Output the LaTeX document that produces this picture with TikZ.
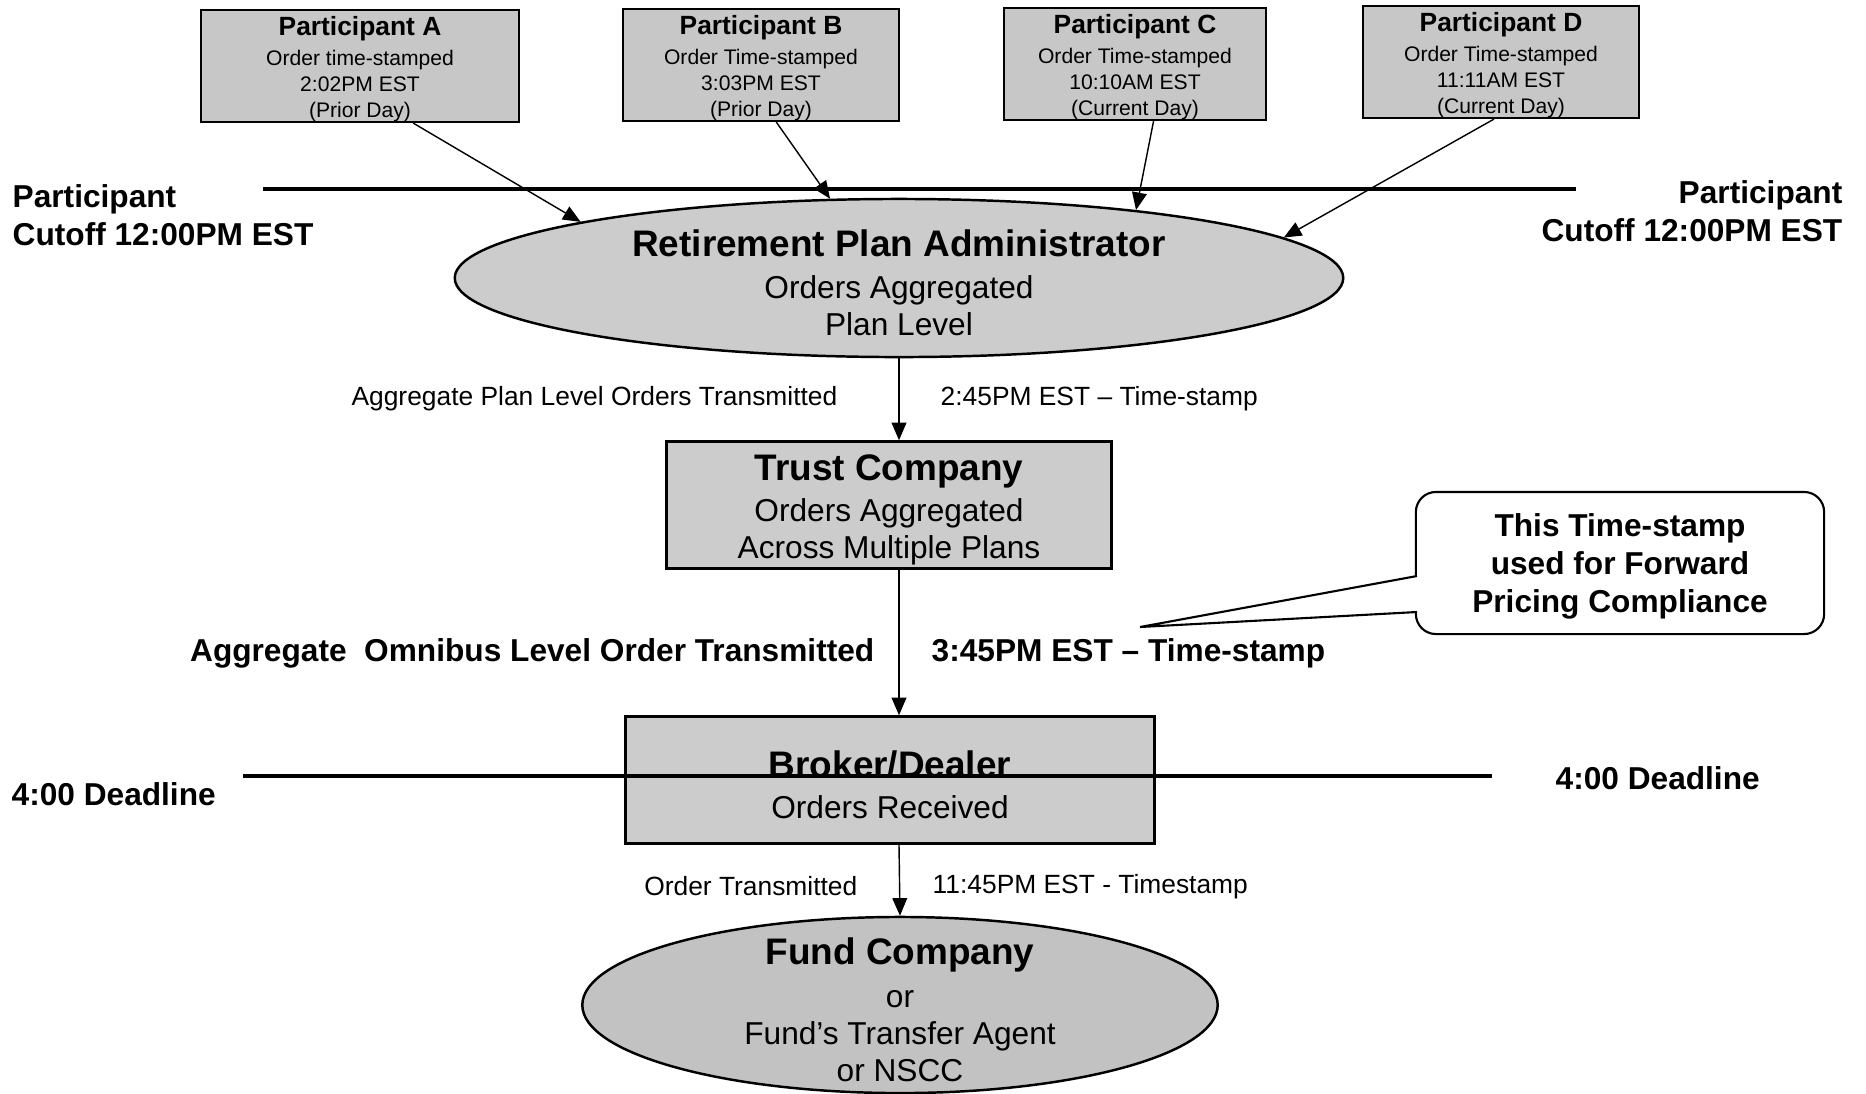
\documentclass[tikz,border=0pt]{standalone}
\usepackage{fontspec}
\setmainfont{Liberation Sans}
\usetikzlibrary{arrows.meta,shapes.geometric,positioning}

\newcommand{\ptitle}[1]{{\fontsize{7.5}{9}\selectfont\bfseries\rule{0pt}{7pt}#1}}
\newcommand{\btitle}[1]{{\fontsize{10.5}{12.6}\selectfont\bfseries\rule{0pt}{10.3pt}#1}}

\tikzset{
  pbox/.style={draw, line width=0.6pt, fill=black!22, align=center, inner sep=0pt,
    minimum height=1.12cm, font=\fontsize{6}{7.4}\selectfont},
  bigbox/.style={draw, line width=0.7pt, fill=black!20, align=center, inner sep=0pt,
    minimum height=1.27cm, font=\fontsize{9}{10.6}\selectfont},
  oval/.style={ellipse, draw, line width=0.7pt, fill=black!20, align=center,
    inner xsep=0pt, inner ysep=-20pt, font=\fontsize{9}{10.5}\selectfont},
  cutoff/.style={line width=1.4pt},
  lbl/.style={inner sep=0pt, font=\fontsize{7.5}{9}\selectfont},
  blbl/.style={inner sep=0pt, font=\fontsize{9}{10.8}\selectfont\bfseries},
  note/.style={draw, line width=0.6pt, rounded corners=0.2cm, fill=white, align=center,
    inner sep=0pt, minimum width=4.08cm, minimum height=1.42cm,
    font=\fontsize{9}{10.8}\selectfont\bfseries}
}

\begin{document}
\begin{tikzpicture}[x=0.01cm, y=-0.01cm, ->, >={Triangle[length=5pt,width=4.2pt]}, thin]
  \useasboundingbox (0,0) rectangle (1866,1093);

  % participants
  \node[pbox, minimum width=3.18cm] (pa) at (360,66)  {\ptitle{Participant A}\\[1.1pt] Order time-stamped\\ 2:02PM EST\\ (Prior Day)};
  \node[pbox, minimum width=2.75cm] (pb) at (761,65)  {\ptitle{Participant B}\\[1.1pt] Order Time-stamped\\ 3:03PM EST\\ (Prior Day)};
  \node[pbox, minimum width=2.62cm] (pc) at (1135,64) {\ptitle{Participant C}\\[1.1pt] Order Time-stamped\\ 10:10AM EST\\ (Current Day)};
  \node[pbox, minimum width=2.76cm] (pd) at (1501,62) {\ptitle{Participant D}\\[1.1pt] Order Time-stamped\\ 11:11AM EST\\ (Current Day)};

  % chain of intermediaries
  \node[oval, minimum width=8.88cm, minimum height=1.58cm] (rpa) at (899,278)
    {\btitle{Retirement Plan Administrator}\\[1.2pt] Orders Aggregated\\ Plan Level};
  \node[bigbox, minimum width=4.45cm] (tc) at (889,505)
    {\btitle{Trust Company}\\[0.9pt] Orders Aggregated\\ Across Multiple Plans};
  \node[bigbox, minimum width=5.29cm] (bd) at (890,780)
    {\btitle{Broker/Dealer}\\[0.9pt] Orders Received};
  \node[oval, minimum width=6.35cm, minimum height=1.76cm, fill=black!24] (fund) at (900,1005)
    {\btitle{Fund Company}\\[1.7pt] or\\ Fund’s Transfer Agent\\ or NSCC};

  % cutoff and deadline
  \node[blbl, anchor=west, align=left]  (cutofflft) at (12,215)   {Participant\\Cutoff 12:00PM EST};
  \node[blbl, anchor=east, align=right] (cutoffrgt) at (1843,211) {Participant\\Cutoff 12:00PM EST};
  \node[blbl, anchor=west] (deadlft) at (11,794)   {4:00 Deadline};
  \node[blbl, anchor=west] (deadrgt) at (1555,778) {4:00 Deadline};
  \coordinate (cutA) at (263,189);
  \coordinate (cutB) at (1576,189);
  \coordinate (deadA) at (243,776);
  \coordinate (deadB) at (1492,776);
  \draw[-, cutoff] (cutA) -- (cutB);
  \draw[-, cutoff] (deadA) -- (deadB);

  % transmission labels
  \node[lbl, anchor=east]  (aggplan) at (838,399) {Aggregate Plan Level Orders Transmitted};
  \node[lbl, anchor=west]  (ts245)   at (940,399) {2:45PM EST – Time-stamp};
  \node[blbl, anchor=east] (aggomni) at (875,653) {Aggregate\ \ Omnibus Level Order Transmitted};
  \node[blbl, anchor=west] (ts345)   at (931,653) {3:45PM EST – Time-stamp};
  \node[lbl, anchor=east]  (ordtx)   at (858,886) {Order Transmitted};
  \node[lbl, anchor=west]  (ts1145)  at (932,887) {11:45PM EST - Timestamp};

  % callout
  \node[note] (fwd) at (1620,563) {\rule{0pt}{8.4pt}This Time-stamp\\ used for Forward\\ Pricing Compliance};
  \coordinate (tip) at (1140,627);
  \fill[-, white] (1413,578) rectangle (1420,610);
  \draw[-, fill=white, line width=0.6pt] (1417,576) -- (tip) -- (1417,612);

  % orders
  \draw (pa.-47) -- (rpa.170);
  \draw (pb.-75) -- (rpa.131);
  \draw (pc.-72) -- (rpa.16);
  \draw (pd.-97) -- (rpa.6);
  \draw (rpa.south) -- (rpa.south |- tc.north);
  \draw (rpa.south |- tc.south) -- (rpa.south |- bd.north);
  \draw (rpa.south |- bd.south) -- (fund.north);
\end{tikzpicture}
\end{document}
